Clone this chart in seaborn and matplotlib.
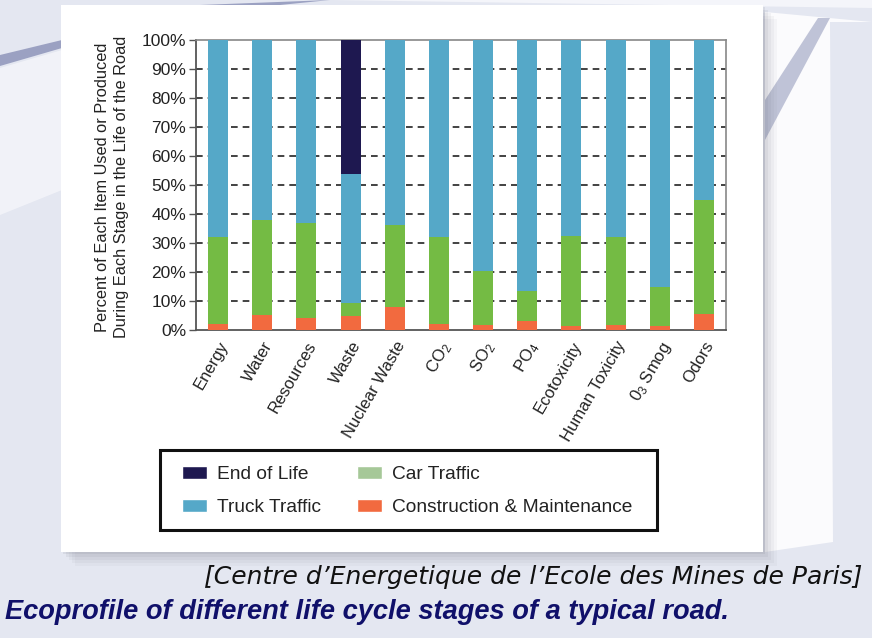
import numpy as np
import pandas as pd
import matplotlib
matplotlib.use("Agg")
import matplotlib.pyplot as plt
import matplotlib.patches as mpatches
import seaborn as sns

categories = ["Energy", "Water", "Resources", "Waste", "Nuclear Waste", "CO$_2$", "SO$_2$",
              "PO$_4$", "Ecotoxicity", "Human Toxicity", "0$_3$ Smog", "Odors"]
construction = [2.0, 5.3, 4.1, 4.7, 8.0, 2.0, 1.6, 3.1, 1.4, 1.6, 1.4, 5.6]
car_traffic = [30.0, 32.7, 32.7, 4.5, 28.1, 30.0, 18.8, 10.3, 31.0, 30.4, 13.6, 39.4]
truck_traffic = [68.0, 62.0, 63.2, 44.6, 63.9, 68.0, 79.6, 86.6, 67.6, 68.0, 85.0, 55.0]
end_of_life = [0, 0, 0, 46.2, 0, 0, 0, 0, 0, 0, 0, 0]
yticks = [0, 10, 20, 30, 40, 50, 60, 70, 80, 90, 100]
series_names = ["End of Life", "Truck Traffic", "Car Traffic", "Construction & Maintenance"]

C_EOL = "#1e1850"
C_TRUCK = "#55a8c8"
C_CAR = "#74bb44"
C_CAR_LEG = "#a6c898"
C_CON = "#f26a3f"

sns.set_style("white")
plt.rcParams["font.family"] = ["Liberation Sans", "DejaVu Sans"]
plt.rcParams["mathtext.fontset"] = "custom"
plt.rcParams["mathtext.rm"] = "Liberation Sans"
plt.rcParams["mathtext.it"] = "Liberation Sans:italic"
plt.rcParams["mathtext.default"] = "rm"

fig = plt.figure(figsize=(8.72, 6.38), dpi=100)
fig.patch.set_facecolor("#e4e7f1")

# slide background decoration
bg = fig.add_axes([0, 0, 1, 1], zorder=-10)
bg.set_xlim(0, 872); bg.set_ylim(638, 0); bg.axis("off")
bg.add_patch(mpatches.Polygon([[0, 55], [62, 40], [62, 48], [0, 66]], closed=True,
                              facecolor="#9ba1c2", edgecolor="none"))
bg.add_patch(mpatches.Polygon([[0, 68], [62, 50], [62, 190], [0, 215]], closed=True,
                              facecolor="#f3f4f9", edgecolor="none", alpha=0.9))
bg.add_patch(mpatches.Polygon([[200, 5], [330, 0], [280, 5]], closed=True,
                              facecolor="#9ba1c2", edgecolor="none"))
bg.add_patch(mpatches.Polygon([[330, 0], [872, 0], [872, 8], [600, 4]], closed=True,
                              facecolor="#f4f5fa", edgecolor="none"))
# white wedge on the right
bg.add_patch(mpatches.Polygon([[765, 12], [872, 22], [830, 22], [833, 542], [765, 552]],
                              closed=True, facecolor="#fbfbfd", edgecolor="none"))
bg.add_patch(mpatches.Polygon([[765, 100], [818, 18], [830, 18], [765, 140]], closed=True,
                              facecolor="#b9bdd3", edgecolor="none", alpha=0.9))
# panel shadow
for i, a in enumerate([0.04, 0.05, 0.06, 0.08, 0.10]):
    off = 14 - i * 3
    bg.add_patch(mpatches.Rectangle((61 + off, 5 + off), 702, 547, facecolor="#606070",
                                    edgecolor="none", alpha=a))
bg.add_patch(mpatches.Rectangle((61, 5), 702, 547, facecolor="white", edgecolor="none"))

ax = fig.add_axes([196 / 872, 1 - 330 / 638, 530 / 872, 290 / 638])
ax.set_facecolor("white")

df = pd.DataFrame({"cat": categories, "con": construction, "car": car_traffic,
                   "truck": truck_traffic, "eol": end_of_life})
df["c1"] = df["con"]
df["c2"] = df["c1"] + df["car"]
df["c3"] = df["c2"] + df["truck"]
df["c4"] = df["c3"] + df["eol"]

for col, color in [("c4", C_EOL), ("c3", C_TRUCK), ("c2", C_CAR), ("c1", C_CON)]:
    sns.barplot(data=df, x="cat", y=col, color=color, width=0.45, ax=ax,
                saturation=1, edgecolor="none", linewidth=0, zorder=3)

ax.set_xlim(-0.5, len(categories) - 0.5)
ax.set_ylim(0, 100)
ax.set_yticks(yticks)
ax.set_yticklabels([f"{t}%" for t in yticks], fontsize=12.5, color="#222222")
ax.set_xlabel("")
ax.set_ylabel("")
for t in yticks[1:-1]:
    ax.axhline(t, color="#222222", lw=1.2, ls=(0, (4, 3)), zorder=1)
ax.tick_params(axis="y", left=True, length=5, width=1, color="#555555", pad=2)
ax.tick_params(axis="x", bottom=False, pad=3)
ax.set_xticks(range(len(categories)))
ax.set_xticklabels(categories, rotation=60, ha="right", rotation_mode="anchor",
                   fontsize=12, color="#222222")
for s in ["left", "bottom"]:
    ax.spines[s].set_color("#555555"); ax.spines[s].set_linewidth(1.3)
for s in ["top", "right"]:
    ax.spines[s].set_color("#888888"); ax.spines[s].set_linewidth(1.2)

fig.text(112 / 872, 1 - 187 / 638,
         "Percent of Each Item Used or Produced\nDuring Each Stage in the Life of the Road",
         rotation=90, ha="center", va="center", fontsize=11.8, color="#222222",
         linespacing=1.4)

# legend box
bg.add_patch(mpatches.Rectangle((160, 450), 497, 80, facecolor="white",
                                edgecolor="#111111", lw=2.2, zorder=5))
handles = [mpatches.Patch(facecolor=C_EOL, label=series_names[0]),
           mpatches.Patch(facecolor=C_TRUCK, label=series_names[1]),
           mpatches.Patch(facecolor=C_CAR_LEG, label=series_names[2]),
           mpatches.Patch(facecolor=C_CON, label=series_names[3])]
fig.legend(handles=handles, ncol=2, frameon=False, loc="center left",
           bbox_to_anchor=(165 / 872, 1 - 491 / 638), fontsize=13.8,
           handlelength=1.3, handleheight=0.7, handletextpad=0.5,
           columnspacing=1.9, labelspacing=0.8, labelcolor="#222222")

fig.text(862 / 872, 1 - 577 / 638, "[Centre d’Energetique de l’Ecole des Mines de Paris]",
         ha="right", va="center", fontsize=18, style="italic", family="DejaVu Sans",
         color="#111111")
fig.text(5 / 872, 1 - 612 / 638, "Ecoprofile of different life cycle stages of a typical road.",
         ha="left", va="center", fontsize=19.6, style="italic", weight="bold",
         color="#10106a")

fig.savefig("out.png", dpi=100, facecolor=fig.get_facecolor())
